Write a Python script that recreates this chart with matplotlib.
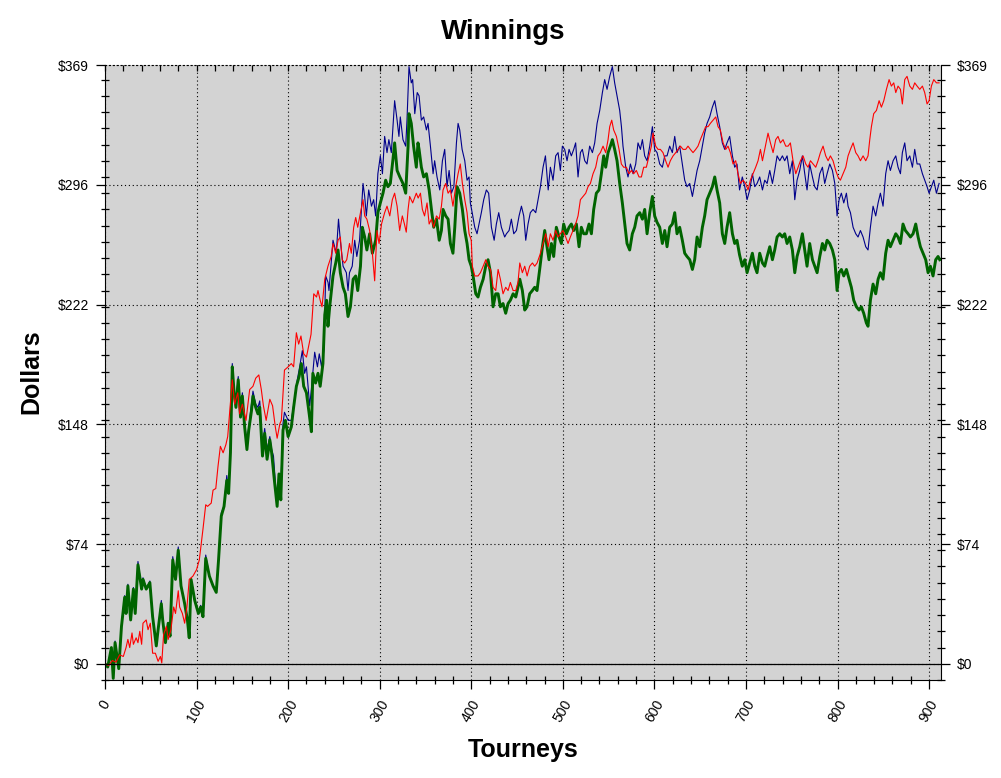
import matplotlib
matplotlib.use('Agg')
import matplotlib.pyplot as plt
from matplotlib.ticker import MultipleLocator

plt.rcParams['font.family'] = ['Liberation Sans', 'DejaVu Sans']

# values (tourney number, dollars)
red_t = [0, 4, 8, 12, 16, 20, 23, 25, 27, 29.5, 31, 34, 36, 38, 40, 41.5, 45, 47, 49.5, 52, 55, 58, 60.5, 62, 64, 67, 69, 72, 75, 77, 80, 81.5, 84.5, 87, 89.5, 92, 96, 100, 103, 107, 110, 112, 116, 118, 121, 123.4, 126, 129, 132, 134, 136, 139, 141.6, 145, 147, 150, 154, 158, 161.6, 164.6, 168, 170.7, 173, 176, 180, 183, 186, 188, 191, 192.6, 196, 200, 203.5, 206, 209, 211.5, 214, 217, 220, 225, 228, 231, 232.6, 235, 237, 240, 243.5, 247, 249, 252, 254.5, 257, 259, 261.7, 264, 267, 269, 271.6, 273.8, 276, 279, 281.8, 283.6, 286, 289, 292, 294.5, 297, 299.3, 302, 305.4, 308, 311, 313.8, 316.3, 319, 321.8, 324.7, 327, 329, 331, 332.7, 336, 340, 342, 344.5, 346.6, 349, 351.7, 354, 356.5, 359, 362, 365, 367.4, 369.2, 372.1, 374.7, 377.2, 380, 383, 385.6, 388, 390.3, 392.9, 395.4, 397.6, 400, 401.2, 403.8, 407.4, 410, 413, 415.8, 418.3, 421, 423.8, 426.7, 429.3, 431.8, 434.7, 437.6, 440.2, 442.7, 445.7, 448.6, 451, 453, 455.8, 458.4, 461, 463.8, 466.8, 469.3, 471.9, 475, 478.4, 481.3, 484, 486.4, 489.3, 492.2, 494.8, 497.3, 500.2, 503.1, 505.7, 508.2, 511.1, 514, 516.6, 519.2, 522.1, 525, 527.5, 530.1, 533, 535.9, 538.4, 541, 543.9, 546.8, 549.4, 551.2, 553.4, 555.5, 558.5, 561.4, 563.9, 566.5, 569.4, 572.3, 574.9, 577.4, 580.3, 583.2, 585.8, 588.3, 591.2, 594.1, 596.7, 598.5, 601.4, 604, 606.5, 609.4, 612.3, 614.9, 617.4, 620.4, 623.3, 625.8, 628.4, 631.3, 634.2, 636.7, 639.3, 642.2, 645.1, 647.6, 650.2, 653.1, 656, 658.6, 661.1, 664, 667, 669.5, 672, 675, 677.9, 680.4, 683, 685.9, 688.8, 691.3, 693.9, 696.8, 699.7, 702.3, 704.8, 707.7, 710.6, 713.2, 715.8, 718, 720.5, 724.1, 726.7, 729.6, 732.5, 735, 737.6, 740.5, 743.4, 746, 748.5, 751.4, 754.4, 756.9, 759.5, 762.4, 765.3, 767.8, 770.4, 773.3, 776.2, 778.7, 781.3, 784.2, 787.1, 789.7, 792.2, 795.1, 798, 800.6, 803.1, 806, 809, 811.5, 814.1, 817, 819.9, 822.4, 825, 827.9, 830.8, 833.3, 835.2, 837, 839.5, 842.5, 845.4, 847.9, 850.5, 853.4, 856.3, 858.8, 861.4, 863.6, 866.1, 868.7, 870.8, 873.4, 875.9, 878.9, 881.8, 884.3, 886.9, 889.8, 892.7, 895.2, 897.8, 900, 902.5, 905.1, 908, 910.9]
red_v = [0, -1, 2, 1, 5.5, 4.5, 10, 15, 10, 19, 12, 16, 13, 20, 12, 25, 27, 21, 25, 6.5, 6.5, 1.5, 4.5, 0.5, 18, 23, 15, 21, 35, 31, 45, 35, 31, 25, 35, 52, 54, 58, 64, 83, 98, 97, 99, 107, 108, 121.6, 134, 130, 135, 140, 154, 175, 160, 167, 154, 160, 150, 169, 171, 176, 178, 169, 159, 150, 163, 159, 146, 139, 148, 150, 181, 183, 185, 183, 204, 197, 202, 191, 189, 203, 228, 226, 230, 224, 220, 237, 245, 251, 259, 253, 261, 263, 249, 247, 249, 259, 253, 269, 275, 269, 278, 286, 276, 274, 267, 253, 236, 267, 259, 271, 278, 282, 276, 286, 290, 282, 267, 276, 271, 266, 280, 288, 284, 290, 287, 290, 280, 276, 284, 271, 274, 269, 276, 274, 282, 292, 296, 290, 292, 282, 294, 302, 308, 296, 286, 278, 265, 261, 245, 239, 239, 241, 245, 249, 245, 243, 232, 230, 243, 237, 228, 232, 230, 235, 230, 230, 235, 247, 241, 245, 239, 245, 247, 245, 247, 252, 259, 265, 257, 265, 261, 267, 263, 265, 267, 263, 259, 263, 267, 271, 276, 286, 288, 290, 294, 296, 302, 306, 313, 315, 319, 315, 323, 331, 335, 329, 325, 317, 308, 306, 306, 302, 304, 302, 304, 300, 300, 306, 306, 313, 319, 327, 319, 317, 317, 315, 310, 306, 310, 313, 315, 317, 319, 317, 317, 319, 317, 315, 317, 319, 323, 327, 331, 331, 333, 335, 337, 331, 329, 321, 317, 319, 315, 308, 310, 302, 296, 298, 296, 292, 298, 302, 306, 310, 317, 310, 317, 327, 321, 315, 323, 325, 321, 323, 319, 319, 321, 310, 302, 306, 310, 313, 308, 306, 310, 308, 306, 310, 315, 319, 313, 310, 313, 310, 304, 300, 298, 302, 306, 313, 317, 321, 315, 313, 310, 313, 310, 313, 323, 331, 339, 341, 347, 343, 347, 354, 360, 356, 358, 352, 356, 354, 345, 360, 362, 356, 354, 358, 356, 354, 356, 352, 345, 347, 356, 360, 358, 358]

blue_t = [0, 3, 7, 9, 11, 15, 18, 21.5, 23, 25, 28, 31, 33, 36, 40, 41.5, 45, 49, 52, 56, 58, 61.5, 63, 66, 69, 71, 74, 77, 80, 83, 87, 90, 92, 94, 98, 102, 104.5, 107, 110, 114, 118, 121.5, 124, 127, 130, 133, 135, 137, 139, 141, 143, 145.5, 148, 150, 152.5, 155, 157, 160, 161.6, 164.6, 167, 169, 172, 174.4, 177, 180, 182, 184, 186.4, 188, 190, 192, 194.4, 196, 200, 203.5, 207, 210, 212.6, 215.5, 218, 220, 223.5, 225, 229, 232, 234, 236.5, 239, 241, 243.6, 244.6, 249, 252.6, 255, 257, 260, 263.6, 265.4, 267, 270, 272.7, 275, 278, 281.8, 283.6, 285.4, 288, 291, 293.4, 295.6, 298, 300.7, 303, 305.4, 308, 310, 312.7, 316.3, 319, 321, 322.5, 325.4, 328.4, 329.8, 332, 334.5, 336, 338.3, 341, 343, 345.5, 348, 351, 352.8, 355.4, 358.3, 360, 362.6, 365.6, 368.5, 371, 373.5, 375.8, 378.3, 381, 383.8, 385.6, 387.4, 390, 392.9, 395.4, 397.6, 399, 401, 403.8, 406.3, 408.5, 411, 413.6, 416.5, 419, 422, 425, 427.4, 430, 432.9, 436.5, 438.4, 441.3, 443.8, 446.4, 449.3, 452.2, 454.8, 457.3, 459.5, 462, 464.5, 467.5, 470.4, 473, 475.5, 478.4, 481, 484, 486.4, 489.3, 492.2, 494.8, 497.3, 499.5, 502, 504.6, 506.8, 509.3, 511.9, 514, 516.6, 519.2, 521.3, 523.9, 526.4, 529.3, 532.3, 534.8, 537.4, 540.3, 543.2, 545.7, 548.3, 551.2, 554.1, 556.6, 559.2, 562.1, 564, 565.7, 568.7, 571.2, 573.8, 576.7, 579.6, 582.1, 584.7, 586.9, 589.4, 592, 594.9, 597.8, 600.3, 602.9, 605.8, 608.7, 611.3, 613.8, 616.7, 619.6, 622.2, 624.7, 627.6, 630.5, 633.1, 635.6, 638.6, 641.5, 644, 646.6, 649.5, 652.4, 654.9, 657.5, 660.4, 663.3, 665.9, 668.4, 671.3, 674.2, 676.8, 679.3, 682.2, 685.2, 687.7, 690.2, 693, 696, 698.7, 701.2, 704.1, 707, 709.6, 712.1, 715, 718, 720.5, 723.1, 726, 728.9, 731.4, 734, 736.9, 739.8, 742.3, 744.9, 747.8, 750.7, 753.3, 755.8, 758.7, 761.6, 764.2, 766.7, 769.6, 772.6, 775.1, 777.7, 780.6, 783.5, 786, 788.6, 791.5, 794.4, 797, 799.5, 801.7, 804.2, 806.8, 809.7, 811.5, 814.1, 817, 819.9, 822.4, 825, 827.9, 830.8, 833.3, 835.9, 838.8, 841.7, 844.3, 846.8, 849.7, 852.6, 855.2, 857.7, 860.7, 863.6, 866.1, 868.7, 870.8, 873.4, 875.9, 878.9, 881.8, 884.3, 886.9, 889.8, 892.7, 895.2, 897.8, 900, 902.5, 905.1, 908, 910.9]
blue_v = [0, -2, 10, -9, 14, -3, 24, 42, 31, 49, 27, 47, 31, 63, 46, 53, 46, 51, 29, 11, 21, 39, 27, 13, 25, 17, 66, 52, 72, 48, 37, 27, 16, 52, 39, 31, 36, 29, 67, 54, 48, 44, 64, 93, 97, 116, 105, 130, 185, 167, 160, 177, 154, 167, 148, 136, 146, 160, 168, 160, 158, 162, 134, 145, 132, 140, 132, 128, 109, 105, 117, 109, 148, 155, 150, 150, 163, 175, 183, 193, 179, 183, 159, 167, 192, 183, 191, 183, 193, 239, 235, 230, 261, 253, 274, 261, 245, 241, 230, 241, 245, 261, 251, 261, 296, 288, 276, 292, 282, 286, 276, 302, 313, 302, 325, 315, 323, 315, 347, 335, 325, 337, 323, 319, 335, 368, 358, 360, 339, 352, 350, 335, 337, 329, 333, 319, 302, 310, 300, 292, 310, 317, 294, 304, 290, 294, 321, 333, 329, 317, 310, 298, 300, 284, 278, 269, 265, 271, 278, 286, 292, 290, 269, 261, 271, 278, 269, 263, 265, 267, 274, 265, 267, 276, 282, 276, 261, 271, 278, 280, 278, 286, 294, 306, 313, 292, 306, 298, 313, 315, 304, 319, 317, 310, 317, 313, 317, 321, 300, 315, 317, 310, 308, 319, 315, 321, 333, 341, 352, 360, 354, 362, 368, 358, 350, 341, 331, 319, 306, 300, 308, 302, 308, 321, 317, 323, 313, 310, 319, 331, 317, 315, 308, 306, 313, 313, 319, 315, 325, 315, 319, 308, 298, 294, 296, 288, 296, 304, 310, 319, 327, 333, 337, 343, 347, 339, 331, 321, 317, 321, 325, 313, 306, 308, 292, 300, 294, 286, 292, 302, 294, 296, 300, 292, 298, 296, 304, 296, 304, 313, 310, 313, 310, 313, 302, 310, 286, 298, 304, 313, 302, 292, 308, 300, 294, 292, 302, 306, 296, 302, 308, 304, 296, 276, 286, 290, 284, 290, 282, 278, 269, 265, 263, 267, 263, 257, 255, 269, 282, 276, 284, 290, 282, 302, 310, 304, 310, 313, 306, 302, 315, 321, 310, 313, 306, 317, 308, 308, 302, 298, 294, 290, 294, 298, 290, 296]

green_t = [0, 3, 7, 9, 11, 15, 18, 21.5, 23, 25, 28, 31, 33, 36, 40, 41.5, 45, 49, 52, 56, 58, 61.5, 63, 66, 69, 71, 74, 77, 80, 83, 87, 90, 92, 94, 98, 102, 104.5, 107, 110, 114, 118, 121.5, 124, 127, 130, 133, 135, 137, 139, 141, 143, 145.5, 148, 150, 152.5, 155, 157, 160, 161.6, 164.6, 167, 169, 172, 174.4, 177, 180, 182, 185, 188, 190, 192, 194.4, 197, 200, 203.5, 206, 209, 212, 214.4, 217, 220, 223, 225.4, 227, 230, 232.6, 235, 238, 240, 242, 243.5, 245.4, 249, 252, 254.5, 257, 260, 262.5, 265.4, 268, 271, 273.8, 276, 279, 281, 283.6, 286, 289, 292, 295.6, 298, 300.7, 303.6, 306.5, 309, 311.6, 314.5, 316.3, 319, 322, 325.4, 328.4, 331, 332, 334.5, 337, 340, 341.8, 343, 345.5, 348, 351, 354, 356.5, 359, 362, 365, 367.4, 369.2, 372.1, 374.7, 377.2, 380, 382, 384.5, 387.4, 390.3, 392.9, 395.4, 397.6, 400, 402, 404.9, 407.4, 410, 413, 415.8, 418.3, 421, 423.8, 426.7, 429.3, 431.8, 434.7, 437.6, 440.2, 442.7, 445.7, 448.6, 451, 453, 455.8, 458.4, 460.9, 463.8, 466.7, 469.3, 471.8, 474.7, 477.7, 480.2, 482.7, 484.9, 487.5, 490, 492.9, 495.9, 498.4, 500.9, 503.9, 506.8, 509.3, 511.9, 514.8, 517.7, 520.2, 522.8, 525.7, 528.6, 531.2, 533.7, 536.6, 539.5, 542.1, 544.6, 546.8, 549.4, 551.9, 554.1, 556.6, 559.2, 562.1, 565, 567.6, 570.1, 573, 575.9, 578.5, 581, 584, 586.9, 589.4, 592, 594.9, 597.8, 600.3, 602.9, 605.8, 608.7, 611.3, 613.8, 616.7, 619.6, 622.2, 624.7, 627.6, 630.5, 633.1, 635.6, 638.6, 641.5, 644, 646.6, 649.5, 652.4, 654.9, 657.5, 660.4, 663.3, 665.9, 668.4, 671.3, 674.2, 676.8, 679.3, 682.2, 685.2, 687.7, 690.2, 693, 696, 698.7, 701.2, 704.1, 707, 709.6, 712.1, 715, 718, 720.5, 723.1, 726, 728.9, 731.4, 734, 736.9, 739.8, 742.3, 744.9, 747.8, 750.7, 753.3, 755.8, 758.7, 761.6, 764.2, 766.7, 769.6, 772.6, 775.1, 777.7, 780.6, 783.5, 786, 788.6, 791.5, 794.4, 797, 799.5, 801.7, 804.2, 806.8, 809.7, 812.6, 815.1, 817.7, 820.6, 823.5, 826, 828.6, 831.5, 833.3, 835.9, 838.8, 841.7, 844.3, 846.8, 849.7, 852.6, 855.2, 857.7, 860.7, 863.6, 866.1, 868.7, 871.5, 874.1, 877, 879.6, 882.5, 885.4, 888, 890.5, 893.4, 896.3, 898.9, 901.4, 904.3, 907.2, 909.8, 911.6]
green_v = [0, -2, 10, -9, 13, -3, 23, 41, 31, 48, 27, 46, 31, 61, 46, 52, 46, 50, 29, 11, 21, 37, 27, 13, 25, 17, 64, 52, 70, 48, 37, 27, 16, 52, 39, 31, 35, 29, 65, 54, 48, 44, 64, 91, 97, 113, 105, 130, 183, 167, 158, 175, 152, 165, 146, 132, 144, 156, 165, 158, 154, 158, 128, 142, 126, 138, 130, 113, 97, 117, 101, 144, 150, 140, 146, 158, 171, 177, 185, 171, 167, 154, 143, 179, 173, 179, 171, 185, 215, 224, 208, 220, 239, 247, 255, 241, 232, 228, 214, 220, 237, 239, 230, 245, 269, 263, 255, 265, 253, 261, 278, 284, 290, 298, 294, 296, 311, 321, 304, 300, 296, 290, 319, 339, 333, 319, 306, 321, 317, 306, 300, 302, 292, 280, 269, 274, 261, 267, 280, 276, 274, 259, 253, 269, 294, 290, 280, 267, 259, 249, 245, 239, 228, 226, 232, 237, 245, 249, 241, 220, 228, 228, 220, 222, 216, 222, 224, 228, 226, 232, 237, 230, 218, 220, 228, 230, 232, 230, 243, 257, 267, 257, 249, 259, 251, 269, 263, 259, 271, 265, 269, 271, 267, 271, 257, 269, 265, 265, 271, 265, 280, 290, 292, 302, 313, 306, 315, 319, 323, 317, 310, 296, 284, 271, 259, 255, 265, 269, 276, 278, 274, 280, 265, 278, 288, 276, 272, 269, 259, 267, 257, 269, 271, 278, 265, 269, 261, 253, 251, 249, 243, 249, 263, 257, 269, 276, 286, 290, 294, 300, 292, 284, 265, 259, 269, 278, 265, 259, 261, 252, 245, 249, 241, 247, 253, 245, 241, 253, 247, 245, 251, 257, 249, 255, 263, 265, 263, 265, 259, 263, 255, 241, 251, 257, 265, 255, 245, 259, 249, 245, 241, 251, 259, 255, 261, 259, 255, 249, 230, 241, 243, 239, 243, 237, 232, 224, 220, 218, 220, 216, 210, 208, 224, 234, 228, 237, 241, 237, 253, 261, 257, 261, 265, 263, 259, 271, 267, 265, 263, 265, 271, 263, 257, 253, 249, 241, 245, 239, 249, 251, 249]

ytick_vals = [0, 73.8, 147.6, 221.4, 295.2, 369]
ytick_labels = ['$0', '$74', '$148', '$222', '$296', '$369']
xtick_vals = [0, 100, 200, 300, 400, 500, 600, 700, 800, 900]

fig = plt.figure(figsize=(10.01, 7.78), dpi=100)
ax = fig.add_axes([105 / 1001, 1 - 680 / 778, 836 / 1001, 615 / 778])
ax.set_facecolor('#d3d3d3')

ax.plot(blue_t, blue_v, color='#00008b', linewidth=0.8)
ax.plot(green_t, green_v, color='#006400', linewidth=2.1)
ax.plot(red_t, red_v, color='#ff0000', linewidth=0.8)
ax.axhline(0, color='black', linewidth=0.9)

ax.set_xlim(0, 913)
ax.set_ylim(-10, 369)

ax.set_xticks(xtick_vals)
ax.set_yticks(ytick_vals, ytick_labels)
ax.xaxis.set_minor_locator(MultipleLocator(20))
ax.yaxis.set_minor_locator(MultipleLocator(10))
ax.grid(True, which='major', color='black', linestyle=(0, (1, 2.5)), linewidth=0.8)

ax.tick_params(which='major', direction='out', length=6.5, width=0.9, labelsize=10,
               right=True, labelright=True, pad=5)
ax.tick_params(which='minor', direction='inout', length=6, width=0.9, right=True)
ax.tick_params(axis='x', which='major', pad=6)
plt.setp(ax.get_xticklabels(), rotation=60, ha='center')

ax.spines['top'].set_visible(False)
top = ax.secondary_xaxis('top')
top.set_xticks(xtick_vals)
top.xaxis.set_minor_locator(MultipleLocator(20))
top.tick_params(which='both', direction='in', length=4, width=0.9, labeltop=False)
top.spines['top'].set_linestyle((0, (1, 2.5)))
top.spines['top'].set_linewidth(0.8)

fig.text(503 / 1001, 1 - 32 / 778, 'Winnings', ha='center', va='center', fontsize=20, fontweight='bold')
fig.text(523 / 1001, 1 - 750 / 778, 'Tourneys', ha='center', va='center', fontsize=18, fontweight='bold')
fig.text(31 / 1001, 1 - 372 / 778, 'Dollars', ha='center', va='center', rotation=90, fontsize=18,
         fontweight='bold')

fig.savefig('out.png', dpi=100)
